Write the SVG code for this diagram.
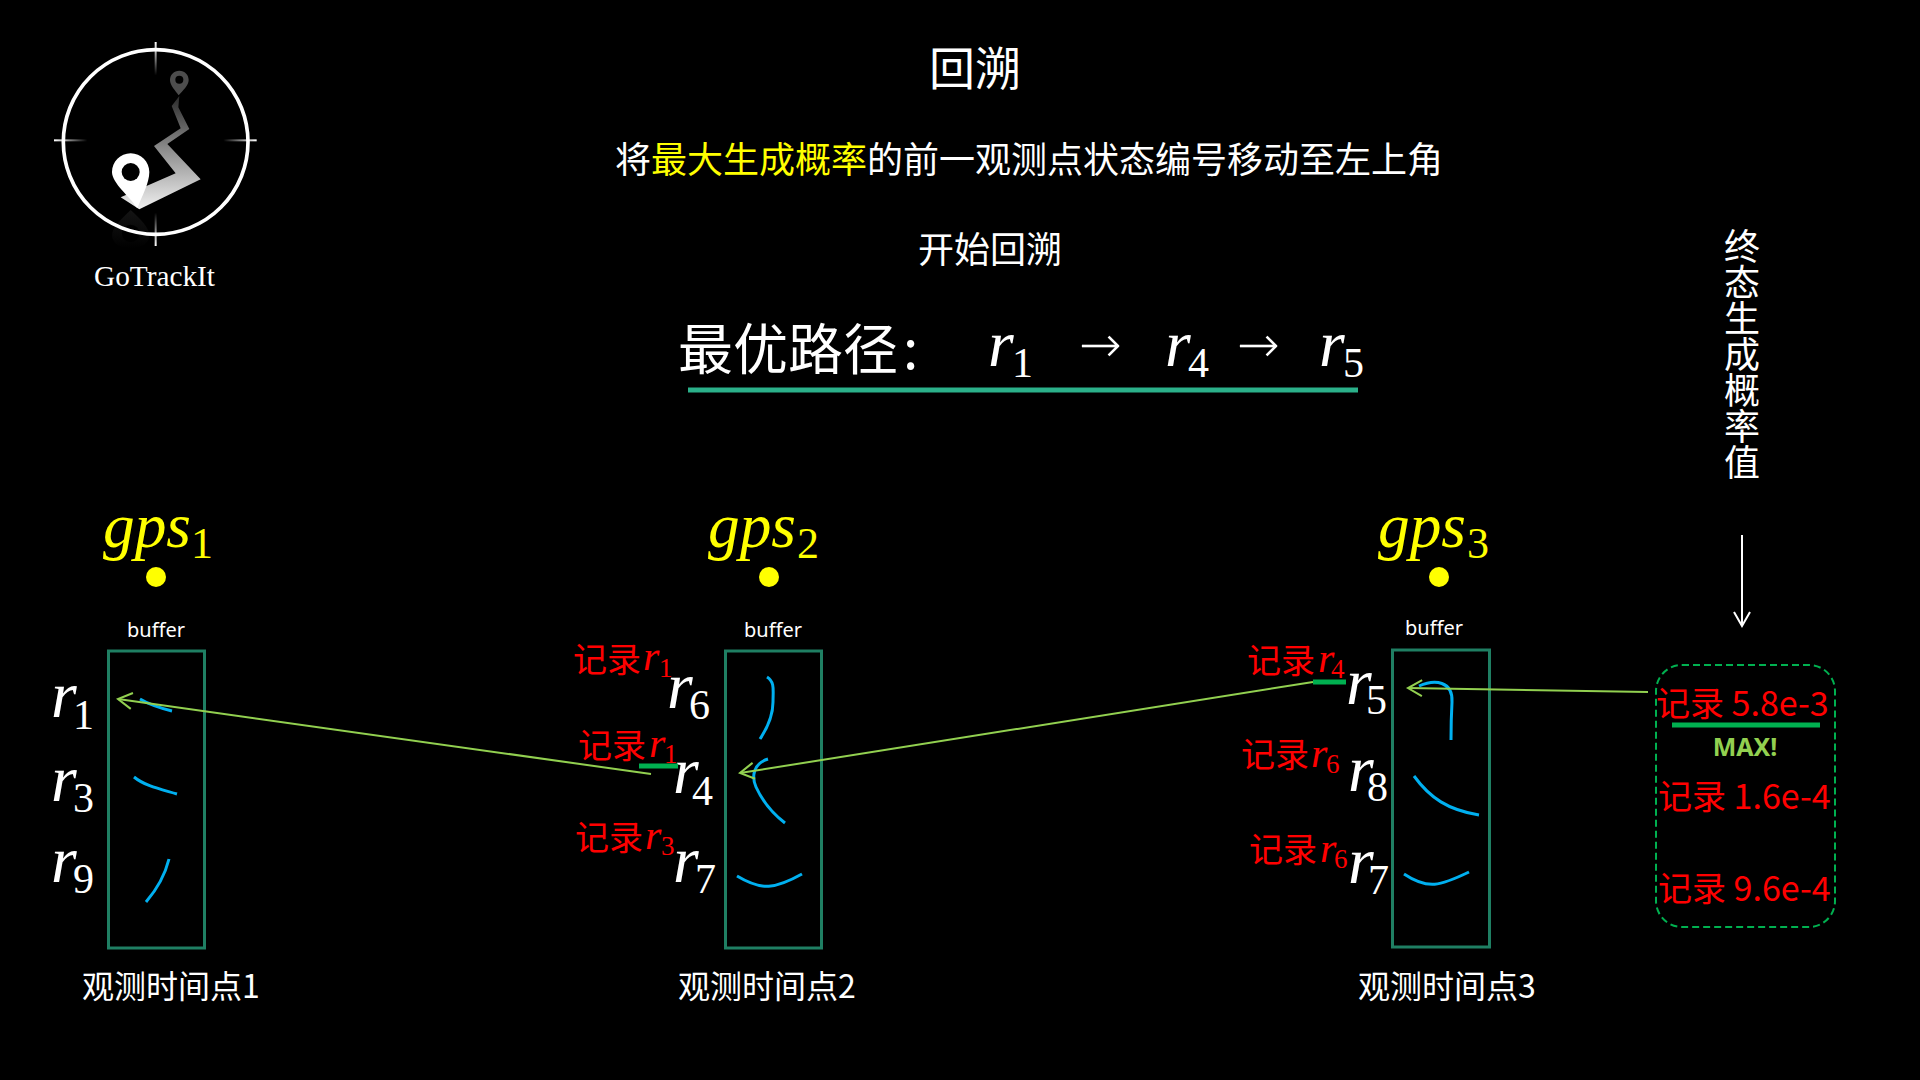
<svg xmlns="http://www.w3.org/2000/svg" width="1920" height="1080" viewBox="0 0 1920 1080">
<style>
text{font-family:"Noto Sans CJK SC","Noto Sans",sans-serif;fill:#fff}
.m{font-family:"Liberation Serif",serif;font-style:italic}
.s{font-family:"Liberation Serif",serif;font-style:normal}
.r{font-size:66px}.rs{font-size:42px}
.lr{font-size:34px;fill:#f00}.lm{font-size:42px;fill:#f00}.ls{font-size:27px;fill:#f00}
.box{fill:none;stroke:#1f7f63;stroke-width:3}
.cv{fill:none;stroke:#00b0f0;stroke-width:3}
.g{font-size:64px;fill:#ff0}.gs{font-size:44px;fill:#ff0}
.dot{fill:#ff0}
.buf{font-size:20px;font-family:"Noto Sans",sans-serif}
.t{font-size:32px}
.arr{fill:none;stroke:#92d050;stroke-width:2;marker-end:url(#a)}
.bar{stroke:#00b050;stroke-width:5}
.ar{font-family:"DejaVu Sans",sans-serif;font-size:51px;font-weight:200}
</style>
<defs>
<marker id="a" markerUnits="userSpaceOnUse" markerWidth="24" markerHeight="24" refX="17" refY="12" orient="auto"><path d="M3 4 17 12 3 20" fill="none" stroke="#92d050" stroke-width="2"/></marker>
<marker id="w" markerUnits="userSpaceOnUse" markerWidth="24" markerHeight="24" refX="17" refY="12" orient="auto"><path d="M3 4 17 12 3 20" fill="none" stroke="#fff" stroke-width="2"/></marker>
<linearGradient id="lg" x1="0" y1="0" x2="0" y2="1"><stop offset="0" stop-color="#2a2a2a"/><stop offset=".45" stop-color="#888"/><stop offset="1" stop-color="#f0f0f0"/></linearGradient>
<linearGradient id="ref" x1="0" y1="0" x2="0" y2="1"><stop offset="0" stop-color="#141414"/><stop offset="1" stop-color="#000"/></linearGradient>
<linearGradient id="t1" x1="0" y1="0" x2="0" y2="1"><stop offset="0" stop-color="#fff"/><stop offset="1" stop-color="#000"/></linearGradient>
<linearGradient id="t2" x1="0" y1="1" x2="0" y2="0"><stop offset="0" stop-color="#fff"/><stop offset="1" stop-color="#000"/></linearGradient>
<linearGradient id="t3" x1="0" y1="0" x2="1" y2="0"><stop offset="0" stop-color="#fff"/><stop offset="1" stop-color="#000"/></linearGradient>
<linearGradient id="t4" x1="1" y1="0" x2="0" y2="0"><stop offset="0" stop-color="#fff"/><stop offset="1" stop-color="#000"/></linearGradient>
</defs>
<rect width="1920" height="1080" fill="#000"/>

<g id="logo">
<g transform="translate(30 20) scale(.33333)">
<path d="M302 570C270 600 246 625 246 645C246 670 270 685 302 685C334 685 358 670 358 645C358 625 330 595 302 570Z" fill="url(#ref)"/>
<circle cx="302" cy="640" r="26" fill="#000"/>
<rect x="374" y="66" width="6" height="100" fill="url(#t1)"/>
<rect x="374" y="578" width="6" height="100" fill="url(#t2)"/>
<rect x="72" y="358" width="100" height="6" fill="url(#t3)"/>
<rect x="580" y="358" width="100" height="6" fill="url(#t4)"/>
<circle cx="377" cy="366" r="277" fill="none" stroke="#fff" stroke-width="11"/>
<path d="M272 532 437 460 372 378 452 325 425 258 448 228 445 262 478 327 412 372 512 478 328 568Z" fill="url(#lg)"/>
<path d="M302 400C333 400 358 425 358 456C358 490 335 530 322 565C300 530 246 490 246 456C246 425 271 400 302 400Z" fill="#fff"/>
<circle cx="302" cy="456" r="27" fill="#000"/>
<path d="M448 152C464 152 476 164 476 180C476 196 458 212 446 226C436 212 420 196 420 180C420 164 432 152 448 152Z" fill="#4d4d4d"/>
<circle cx="448" cy="179" r="12" fill="#000"/>
</g>
<text x="94" y="286" font-size="30" textLength="121" lengthAdjust="spacingAndGlyphs" style="font-family:'Liberation Serif',serif">GoTrackIt</text>
</g>

<g id="header">
<text x="975" y="85" font-size="46" text-anchor="middle">回溯</text>
<text x="615" y="173" font-size="36">将<tspan fill="#ff0">最大生成概率</tspan>的前一观测点状态编号移动至左上角</text>
<text x="990" y="263" font-size="36" text-anchor="middle">开始回溯</text>
</g>

<g id="path-result">
<text x="678" y="369" font-size="55">最优路径<tspan x="903">:</tspan></text>
<text class="m r" x="988" y="366">r<tspan class="s rs" x="1012" y="377">1</tspan></text>
<text class="ar" x="1079" y="362">→</text>
<text class="m r" x="1165" y="366">r<tspan class="s rs" x="1188" y="377">4</tspan></text>
<text class="ar" x="1237" y="362">→</text>
<text class="m r" x="1319" y="366">r<tspan class="s rs" x="1343" y="377">5</tspan></text>
<line x1="688" y1="390" x2="1358" y2="390" stroke="#2bb08a" stroke-width="5"/>
</g>

<g id="t1-node">
<text x="103" y="547" class="m g" textLength="88" lengthAdjust="spacingAndGlyphs">gps</text><text x="191" y="558" class="s gs">1</text>
<circle cx="156" cy="577" r="10" class="dot"/>
<text x="156" y="637" class="buf" text-anchor="middle">buffer</text>
<rect x="108.500" y="651" width="96" height="297" class="box"/>
<path class="cv" d="M140 699C150 705 160 708 172 711"/>
<path class="cv" d="M134 777C145 786 160 789 177 794"/>
<path class="cv" d="M169 859C165 875 158 888 146 902"/>
<text class="m r" x="51" y="717">r<tspan class="s rs" x="73" y="729">1</tspan></text>
<text class="m r" x="51" y="801">r<tspan class="s rs" x="73" y="812">3</tspan></text>
<text class="m r" x="51" y="882">r<tspan class="s rs" x="73" y="893">9</tspan></text>
<text x="82" y="998" class="t">观测时间点1</text>
</g>

<g id="t2-node">
<text x="708" y="547" class="m g" textLength="88" lengthAdjust="spacingAndGlyphs">gps</text><text x="797" y="558" class="s gs">2</text>
<circle cx="769" cy="577" r="10" class="dot"/>
<text x="773" y="637" class="buf" text-anchor="middle">buffer</text>
<rect x="725.500" y="651" width="96" height="297" class="box"/>
<path class="cv" d="M767 677C775 682 773 690 773 702C773 715 768 727 760 739"/>
<path class="cv" d="M768 759C752 764 752 778 756 787C762 800 772 813 785 823"/>
<path class="cv" d="M737 876C762 891 775 889 802 874"/>
<text class="m r" x="667" y="708">r<tspan class="s rs" x="689" y="719">6</tspan></text>
<text class="m r" x="673" y="793">r<tspan class="s rs" x="692" y="805">4</tspan></text>
<text class="m r" x="673" y="882">r<tspan class="s rs" x="695" y="893">7</tspan></text>
<text x="573" y="672" class="lr">记录<tspan class="m lm" x="643" y="670">r</tspan><tspan class="s ls" x="659" y="677">1</tspan></text>
<text x="578" y="758" class="lr">记录<tspan class="m lm" x="649" y="757">r</tspan><tspan class="s ls" x="664" y="763">1</tspan></text>
<text x="575" y="850" class="lr">记录<tspan class="m lm" x="645" y="849">r</tspan><tspan class="s ls" x="661" y="855">3</tspan></text>
<text x="678" y="998" class="t">观测时间点2</text>
</g>

<g id="t3-node">
<text x="1378" y="547" class="m g" textLength="88" lengthAdjust="spacingAndGlyphs">gps</text><text x="1467" y="558" class="s gs">3</text>
<circle cx="1439" cy="577" r="10" class="dot"/>
<text x="1434" y="635" class="buf" text-anchor="middle">buffer</text>
<rect x="1392.500" y="650" width="97" height="297" class="box"/>
<path class="cv" d="M1419 686C1435 679 1453 681 1452 702C1451 720 1451 725 1451 740"/>
<path class="cv" d="M1414 776C1430 798 1448 810 1479 815"/>
<path class="cv" d="M1404 874C1428 890 1440 886 1469 872"/>
<text class="m r" x="1346" y="704">r<tspan class="s rs" x="1366" y="714">5</tspan></text>
<text class="m r" x="1348" y="791">r<tspan class="s rs" x="1367" y="801">8</tspan></text>
<text class="m r" x="1348" y="883">r<tspan class="s rs" x="1368" y="894">7</tspan></text>
<text x="1247" y="673" class="lr">记录<tspan class="m lm" x="1318" y="672">r</tspan><tspan class="s ls" x="1331" y="678">4</tspan></text>
<text x="1241" y="767" class="lr">记录<tspan class="m lm" x="1311" y="767">r</tspan><tspan class="s ls" x="1326" y="773">6</tspan></text>
<text x="1249" y="862" class="lr">记录<tspan class="m lm" x="1320" y="862">r</tspan><tspan class="s ls" x="1334" y="868">6</tspan></text>
<text x="1358" y="998" class="t">观测时间点3</text>
</g>

<g id="final-node">
<text x="1742" y="228" font-size="36" writing-mode="vertical-rl">终态生成概率值</text>
<rect x="1656" y="665" width="179" height="262" rx="26" fill="none" stroke="#00b050" stroke-width="2" stroke-dasharray="7 4"/>
<text x="1656" y="716" class="lr">记录 5.8e-3</text>
<line x1="1672" y1="725" x2="1820" y2="725" class="bar"/>
<text x="1745" y="756" font-size="25" font-weight="700" text-anchor="middle" style="fill:#92d050;font-family:'Noto Sans',sans-serif">MAX!</text>
<text x="1658" y="809" class="lr">记录 1.6e-4</text>
<text x="1658" y="901" class="lr">记录 9.6e-4</text>
</g>

<g id="connectors">
<line x1="651" y1="774" x2="118" y2="699" class="arr"/>
<line x1="1313" y1="682" x2="740" y2="773" class="arr"/>
<line x1="1648" y1="692" x2="1408" y2="688" class="arr"/>
<line x1="639" y1="766" x2="678" y2="766" class="bar"/>
<line x1="1313" y1="682" x2="1346" y2="682" class="bar"/>
<line x1="1742" y1="535" x2="1742" y2="626" stroke="#fff" stroke-width="2" marker-end="url(#w)"/>
</g>
</svg>
